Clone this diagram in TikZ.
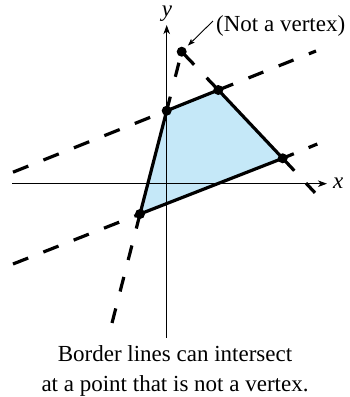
\documentclass[tikz,border=0pt]{standalone}
\usepackage{fontspec}
\setmainfont{Liberation Serif}
\usetikzlibrary{arrows.meta}
\definecolor{regionfill}{RGB}{197,232,248}
\begin{document}
\begin{tikzpicture}[x=1pt,y=-1pt,
  axis/.style={line width=1.1pt},
  edge/.style={line width=3.2pt, line join=round},
  dline/.style={line width=3.2pt},
  vdot/.style={circle, fill=black, inner sep=0pt, minimum size=10pt},
  lbl/.style={font=\fontsize{23}{29.5}\selectfont, inner sep=0pt}]
\useasboundingbox (0,0) rectangle (350,397);
% vertices and line ends
\coordinate (A) at (166.7,110.7);
\coordinate (B) at (218.3,90);
\coordinate (C) at (282.7,158.3);
\coordinate (D) at (140,214);
\coordinate (N) at (181.7,51.7);
\coordinate (L1a) at (13,172.2);
\coordinate (L1b) at (316,51);
\coordinate (L2a) at (13,264);
\coordinate (L2b) at (317.3,144);
\coordinate (L3b) at (315,192.8);
\coordinate (L4b) at (111.5,325);
\coordinate (xa) at (12,183.7);
\coordinate (xb) at (327,183.7);
\coordinate (ya) at (166.7,337.5);
\coordinate (yb) at (166.7,25);
\coordinate (NL) at (213,21);
% region
\fill[regionfill] (A) -- (B) -- (C) -- (D) -- cycle;
% axes
\draw[axis, -{Stealth[length=9pt,width=6.5pt,inset=2.5pt]}] (xa) -- (xb);
\draw[axis, -{Stealth[length=9pt,width=6.5pt,inset=2.5pt]}] (ya) -- (yb);
% dashed border lines
\draw[dline, dash pattern=on 16.5pt off 16.3pt] (L1a) -- (A);
\draw[dline, dash pattern=on 16pt off 16.5pt] (B) -- (L1b);
\draw[dline, dash pattern=on 16.3pt off 16.3pt] (L2a) -- (D);
\draw[dline, dash pattern=on 12pt off 16pt] (C) -- (L2b);
\draw[dline, dash pattern=on 18pt off 18pt] (N) -- (B);
\draw[dline, dash pattern=on 17pt off 17pt] (C) -- (L3b);
\draw[dline, dash pattern=on 14.5pt off 20.5pt] (A) -- (N);
\draw[dline, dash pattern=on 15pt off 17.5pt] (D) -- (L4b);
% solid border
\draw[edge] (A) -- (B) -- (C) -- (D) -- cycle;
% vertices
\node[vdot] (dA) at (A) {};
\node[vdot] (dB) at (B) {};
\node[vdot] (dC) at (C) {};
\node[vdot] (dD) at (D) {};
\node[vdot] (dN) at (N) {};
% labels
\node[lbl, anchor=base] (ylab) at (167,16.8) {\itshape y};
\node[lbl, anchor=base west] (xlab) at (333,188.5) {\itshape x};
\node[lbl, anchor=base west] (nv) at (216,31.5) {(Not a vertex)};
\draw[line width=0.9pt, -{Stealth[length=7pt,width=5pt,inset=1.5pt]}, shorten >=3.5pt] (NL) -- (dN);
\node[lbl, anchor=base] (cap1) at (175,361.5) {Border lines can intersect};
\node[lbl, anchor=base] (cap2) at (175,391) {at a point that is not a vertex.};
\end{tikzpicture}
\end{document}
